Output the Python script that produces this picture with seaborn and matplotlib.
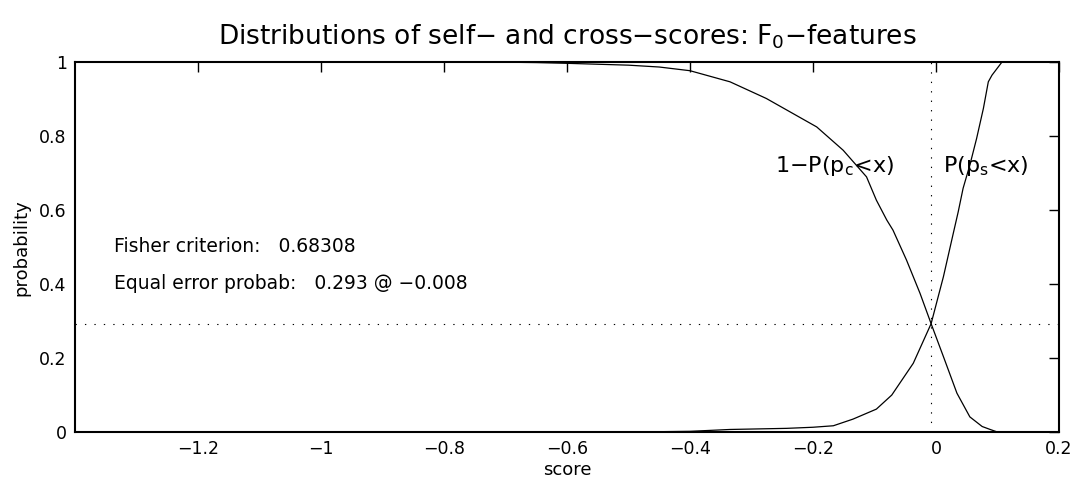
import matplotlib
matplotlib.use("Agg")
import matplotlib.pyplot as plt
import seaborn as sns
import pandas as pd

# Cross-score survival curve 1 - P(p_c < x)
cross_x = [-1.40, -0.70, -0.65, -0.60, -0.50, -0.45, -0.40, -0.335, -0.276, -0.194,
           -0.151, -0.113, -0.097, -0.080, -0.070, -0.048, -0.026, -0.008, 0.012,
           0.034, 0.055, 0.075, 0.088, 0.10, 0.20]
cross_y = [1.0, 1.0, 0.999, 0.997, 0.992, 0.987, 0.977, 0.947, 0.902, 0.825,
           0.762, 0.69, 0.627, 0.573, 0.546, 0.465, 0.375, 0.293, 0.204,
           0.105, 0.041, 0.015, 0.007, 0.0, 0.0]

# Self-score cumulative curve P(p_s < x)
self_x = [-1.40, -0.50, -0.40, -0.335, -0.243, -0.200, -0.167, -0.135, -0.097,
          -0.072, -0.037, -0.008, 0.012, 0.028, 0.036, 0.044, 0.055, 0.066,
          0.077, 0.085, 0.091, 0.107, 0.20]
self_y = [0.0, 0.0, 0.002, 0.007, 0.010, 0.013, 0.017, 0.035, 0.062,
          0.100, 0.186, 0.293, 0.420, 0.537, 0.595, 0.659, 0.722, 0.794,
          0.875, 0.947, 0.965, 1.0, 1.0]

fisher = 0.68308
eer_prob = 0.293
eer_score = -0.008

x_ticks = [-1.2, -1.0, -0.8, -0.6, -0.4, -0.2, 0.0, 0.2]
x_tick_labels = ["\u22121.2", "\u22121", "\u22120.8", "\u22120.6", "\u22120.4",
                 "\u22120.2", "0", "0.2"]
y_ticks = [0, 0.2, 0.4, 0.6, 0.8, 1.0]
y_tick_labels = ["0", "0.2", "0.4", "0.6", "0.8", "1"]

sns.set_theme(style="white")
plt.rcParams["font.family"] = ["DejaVu Sans"]
plt.rcParams["mathtext.default"] = "regular"
plt.rcParams["axes.unicode_minus"] = True
plt.rcParams["text.color"] = "black"
plt.rcParams["axes.labelcolor"] = "black"

fig = plt.figure(figsize=(10.79, 4.86), dpi=100)
ax = fig.add_axes([0.0695, 0.111, 0.912, 0.761])

cross_df = pd.DataFrame({"score": cross_x, "probability": cross_y})
self_df = pd.DataFrame({"score": self_x, "probability": self_y})
sns.lineplot(data=cross_df, x="score", y="probability", ax=ax, color="black",
             linewidth=0.9, estimator=None, sort=False)
sns.lineplot(data=self_df, x="score", y="probability", ax=ax, color="black",
             linewidth=0.9, estimator=None, sort=False)

# Equal-error crosshair
dots = (0, (1.2, 7.3))
ax.axvline(eer_score, color="black", linestyle=dots, linewidth=0.8)
ax.axhline(eer_prob, color="black", linestyle=dots, linewidth=0.8)

ax.set_xlim(-1.40, 0.2)
ax.set_ylim(0, 1)
ax.set_xticks(x_ticks)
ax.set_xticklabels(x_tick_labels)
ax.set_yticks(y_ticks)
ax.set_yticklabels(y_tick_labels)
ax.tick_params(direction="in", length=7, width=1, top=True, right=True,
               labelsize=12.5, colors="black", pad=6)
for s in ax.spines.values():
    s.set_visible(True)
    s.set_color("black")
    s.set_linewidth(1.5)

ax.set_xlabel("score", fontsize=13, labelpad=2)
ax.set_ylabel("probability", fontsize=13, labelpad=6)
ax.set_title("Distributions of self\u2212 and cross\u2212scores: F$_0$\u2212features",
             fontsize=19, pad=13)

ax.text(-1.337, 0.503, f"Fisher criterion:   {fisher:.5f}", fontsize=13.5,
        va="center", ha="left")
ax.text(-1.337, 0.403,
        f"Equal error probab:   {eer_prob:.3f} @ \u2212{abs(eer_score):.3f}",
        fontsize=13.5, va="center", ha="left")
ax.text(-0.262, 0.72, "1\u2212P(p$_c$<x)", fontsize=16, va="center", ha="left")
ax.text(0.012, 0.72, "P(p$_s$<x)", fontsize=16, va="center", ha="left")

fig.savefig("out.png", dpi=100)
